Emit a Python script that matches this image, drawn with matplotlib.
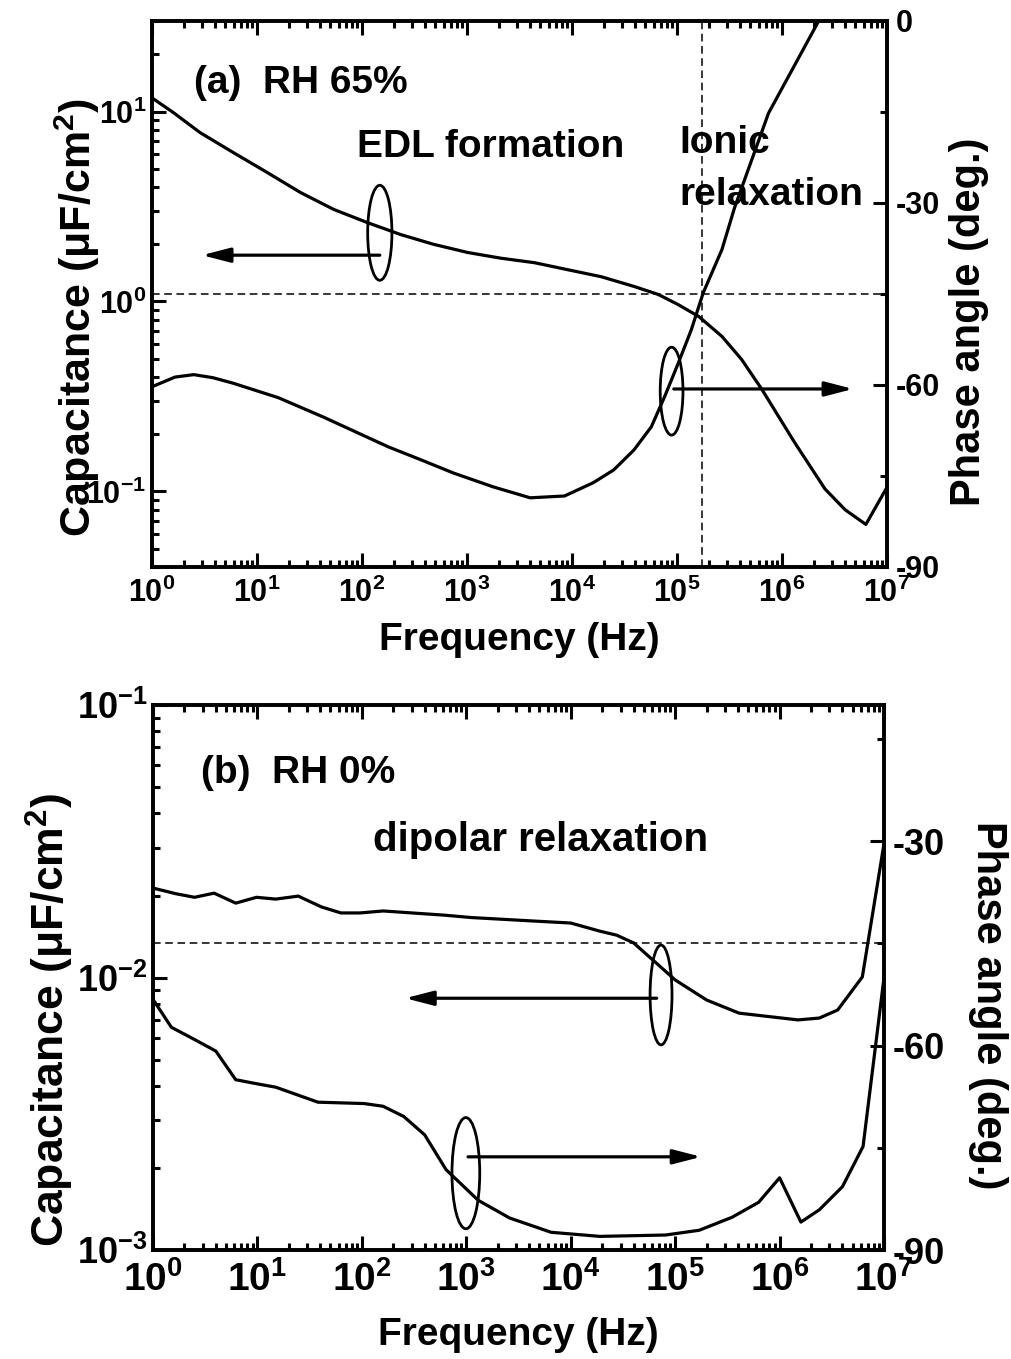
import numpy as np
import matplotlib
matplotlib.use('Agg')
import matplotlib.pyplot as plt
from matplotlib.patches import Ellipse
from matplotlib.ticker import LogLocator, FixedLocator, MultipleLocator, NullFormatter

plt.rcParams['font.family'] = 'Liberation Sans'
plt.rcParams['font.weight'] = 'bold'
plt.rcParams['axes.unicode_minus'] = False

## (a) RH 65% - capacitance (left, log) and phase angle (right)
freq_a_cap = [1, 1.59, 2.87, 5.9, 12.5, 25.9, 54, 113, 234, 480, 1020, 2100, 4400, 9100,
              19000, 39000, 66000, 1.02e5, 1.61e5, 2.68e5, 4.13e5, 6.45e5, 1.32e6, 2.57e6,
              4.0e6, 6.3e6, 1.0e7]
cap_a = [11.8, 9.9, 7.75, 6.1, 4.78, 3.75, 3.05, 2.6, 2.25, 2.0, 1.81, 1.69, 1.60, 1.47,
         1.35, 1.20, 1.09, 0.965, 0.834, 0.655, 0.495, 0.344, 0.181, 0.103,
         0.080, 0.067, 0.105]

freq_a_ph = [1, 1.66, 2.5, 3.8, 5.9, 16, 43, 178, 372, 740, 1780, 4000, 8500, 16000, 25000,
             39000, 57000, 76000, 1.03e5, 1.37e5, 1.78e5, 2.68e5, 3.55e5, 7.45e5, 2.24e6, 3.0e6]
phase_a = [-60.3, -58.7, -58.3, -58.8, -59.7, -62.1, -65.3, -70.2, -72.4, -74.5, -76.8, -78.6,
           -78.3, -76.1, -74.0, -70.7, -66.9, -62.0, -56.4, -50.9, -44.8, -37.7, -30.7, -15.2,
           0.0, 4.0]

## (b) RH 0%
freq_b_cap = [1, 1.66, 2.5, 3.85, 6.2, 9.8, 15, 24.6, 41, 63, 96, 160, 615, 1120, 4700,
              10000, 19000, 27600, 40000, 66000, 1.0e5, 2.0e5, 4.1e5, 1.5e6, 2.4e6, 3.6e6,
              6.2e6, 1.0e7]
cap_b = [0.0213, 0.0203, 0.0197, 0.0204, 0.01875, 0.0197, 0.0194, 0.0199, 0.01816, 0.01726,
         0.01726, 0.01755, 0.01694, 0.0166, 0.0161, 0.01585, 0.01480, 0.0143, 0.0134, 0.0113,
         0.0098, 0.00827, 0.0074, 0.00699, 0.0071, 0.0076, 0.01005, 0.031]

freq_b_ph = [1, 1.5, 2.5, 4, 6.2, 9.9, 15, 38, 105, 160, 252, 400, 640, 1300, 2600, 6500,
             19000, 81000, 1.7e5, 3.5e5, 6.3e5, 1.0e6, 1.6e6, 2.4e6, 4.0e6, 6.3e6, 1.0e7]
phase_b = [-53.2, -57.3, -59.1, -60.8, -65.0, -65.6, -66.1, -68.3, -68.5, -68.9, -70.4, -73.1,
           -78.2, -82.7, -85.3, -87.4, -88.0, -87.8, -87.1, -85.2, -83.0, -79.4, -85.9, -84.1,
           -80.7, -74.8, -50.0]

xticks = [1e0, 1e1, 1e2, 1e3, 1e4, 1e5, 1e6, 1e7]
phase_ticks_a = [0, -30, -60, -90]
phase_ticks_b = [-30, -60, -90]

LW = 2.3
DASH = (0, (5, 3))


def style(ax, ax2, xsize, ysize, rsize):
    ax.set_xscale('log')
    ax.set_yscale('log')
    ax.set_xlim(1, 1e7)
    ax.xaxis.set_major_locator(FixedLocator(xticks))
    ax.xaxis.set_minor_locator(LogLocator(base=10, subs=np.arange(2, 10), numticks=50))
    ax.xaxis.set_minor_formatter(NullFormatter())
    ax.yaxis.set_major_locator(LogLocator(base=10, numticks=20))
    ax.yaxis.set_minor_locator(LogLocator(base=10, subs=np.arange(2, 10), numticks=50))
    ax.yaxis.set_minor_formatter(NullFormatter())
    ax.tick_params(which='both', direction='in', top=True, right=False, width=2.2)
    ax.tick_params(which='major', length=10)
    ax.tick_params(which='minor', length=5)
    ax.tick_params(axis='x', labelsize=xsize, pad=8)
    ax.tick_params(axis='y', labelsize=ysize, pad=4)
    ax2.yaxis.set_minor_locator(MultipleLocator(15))
    ax2.tick_params(which='both', direction='in', width=2.2, labelsize=rsize, pad=6)
    ax2.tick_params(which='major', length=10)
    ax2.tick_params(which='minor', length=5)
    for a in (ax, ax2):
        for s in a.spines.values():
            s.set_linewidth(2.6)
    for lab in ax.get_xticklabels() + ax.get_yticklabels() + ax2.get_yticklabels():
        lab.set_fontweight('bold')


def ellipse_arrow(ax, centre, w, h, start, tip):
    ax.add_patch(Ellipse(centre, w, h, transform=ax.transAxes, fill=False, lw=2.0, color='k'))
    ax.annotate('', xy=tip, xytext=start, xycoords='axes fraction', textcoords='axes fraction',
                arrowprops=dict(arrowstyle='-|>,head_length=0.85,head_width=0.22', lw=LW,
                                color='k', shrinkA=0, shrinkB=0, mutation_scale=20))


fig = plt.figure(figsize=(10.11, 13.59), dpi=100)

## Panel (a)
ax1 = fig.add_axes([0.1503, 0.5828, 0.7270, 0.4018])
ax2 = ax1.twinx()
ax1.plot(freq_a_cap, cap_a, color='k', lw=LW)
ax2.plot(freq_a_ph, phase_a, color='k', lw=LW)
ax1.set_ylim(0.04, 30)
ax2.set_ylim(-90, 0)
ax2.yaxis.set_major_locator(FixedLocator(phase_ticks_a))
ax2.axhline(-45, color='k', lw=1.1, ls=DASH)
ax1.axvline(1.75e5, color='k', lw=1.1, ls=DASH)
style(ax1, ax2, 22, 22, 22)

ax1.set_xlabel('Frequency (Hz)', fontsize=28, fontweight='bold', va='center')
ax1.xaxis.set_label_coords(0.5, -0.134)
ax1.set_ylabel('Capacitance (μF/cm$^\\mathdefault{2}$)', fontsize=31, fontweight='bold', va='center')
ax1.yaxis.set_label_coords(-0.101, 0.456)
ax2.set_ylabel('Phase angle (deg.)', rotation=90, fontsize=30, fontweight='bold', va='center')
ax2.yaxis.set_label_coords(1.112, 0.449)

ax1.text(0.057, 0.886, '(a)  RH 65%', transform=ax1.transAxes, fontsize=28, va='center')
ax1.text(0.279, 0.769, 'EDL formation', transform=ax1.transAxes, fontsize=28, va='center')
ax1.text(0.718, 0.777, 'Ionic', transform=ax1.transAxes, fontsize=28, va='center')
ax1.text(0.718, 0.681, 'relaxation', transform=ax1.transAxes, fontsize=28, va='center')

ellipse_arrow(ax1, (0.310, 0.612), 0.033, 0.174, (0.310, 0.571), (0.068, 0.571))
ellipse_arrow(ax1, (0.707, 0.322), 0.031, 0.161, (0.710, 0.326), (0.954, 0.326))

## Panel (b)
ax3 = fig.add_axes([0.1513, 0.0802, 0.7231, 0.4010])
ax4 = ax3.twinx()
ax3.plot(freq_b_cap, cap_b, color='k', lw=LW)
ax4.plot(freq_b_ph, phase_b, color='k', lw=LW)
ax3.set_ylim(1e-3, 1e-1)
ax4.set_ylim(-90, -10)
ax4.yaxis.set_major_locator(FixedLocator(phase_ticks_b))
ax4.axhline(-45, color='k', lw=1.1, ls=DASH)
style(ax3, ax4, 28, 26, 26)

ax3.set_xlabel('Frequency (Hz)', fontsize=28, fontweight='bold', va='center')
ax3.xaxis.set_label_coords(0.5, -0.156)
ax3.set_ylabel('Capacitance (μF/cm$^\\mathdefault{2}$)', fontsize=32, fontweight='bold', va='center')
ax3.yaxis.set_label_coords(-0.141, 0.422)
ax4.set_ylabel('Phase angle (deg.)', rotation=-90, fontsize=30, fontweight='bold', va='center')
ax4.yaxis.set_label_coords(1.142, 0.450)

ax3.text(0.066, 0.875, '(b)  RH 0%', transform=ax3.transAxes, fontsize=28, va='center')
ax3.text(0.301, 0.752, 'dipolar relaxation', transform=ax3.transAxes, fontsize=29, va='center')

ellipse_arrow(ax3, (0.695, 0.468), 0.030, 0.183, (0.689, 0.462), (0.345, 0.462))
ellipse_arrow(ax3, (0.428, 0.141), 0.038, 0.204, (0.431, 0.171), (0.750, 0.171))

fig.savefig('out.png', dpi=100)
